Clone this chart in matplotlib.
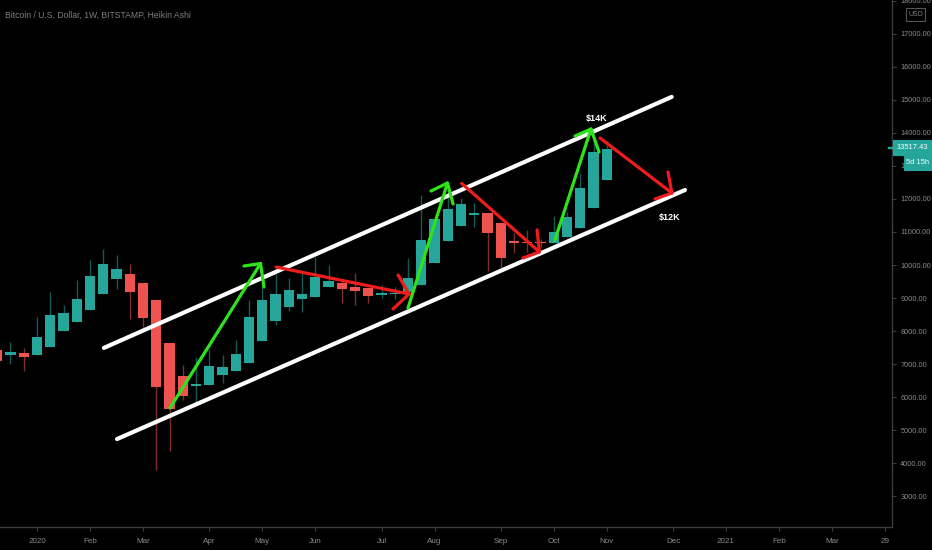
import matplotlib
matplotlib.use("Agg")
import matplotlib.pyplot as plt
from matplotlib.patches import Rectangle
import numpy as np
import pandas as pd

BG       = "#000000"
UP       = "#26a69a"
DOWN     = "#ef5350"
GREEN    = "#2ee31a"
RED      = "#f01c1c"
AXIS_TXT = "#8a8a8a"
AXIS_LN  = "#3c3c3c"
FONT     = ["Liberation Sans", "DejaVu Sans"]

plt.rcParams["font.family"] = FONT

# ── weekly Heikin Ashi bars, BTC/USD (Bitstamp), first bar = week of 2019-12-16 ──
first_week = "2019-12-16"
ha_open  = [7426, 7275, 7326, 7266, 7526, 8001, 8274, 8628, 9131, 9576,
            9727, 9464, 8940, 7629, 6639, 6336, 6357, 6660, 6781, 7042,
            7708, 8313, 8719, 8970, 9040, 9343, 9446, 9343, 9294, 9092,
            9120, 9192, 9394, 10070, 10727, 11190, 11514, 11565, 11263, 10736,
            10705, 10690, 10675, 10839, 11129, 11735, 12574]
ha_high  = [7470, 7677, 7478, 8435, 9173, 8780, 9546, 10151, 10484, 10303,
            10030, 9464, 8940, 7629, 6963, 7205, 7447, 7275, 7729, 8940,
            9394, 9749, 9606, 9749, 10251, 10000, 9567, 9767, 9294, 9394,
            9334, 10203, 12120, 11393, 12271, 12029, 11868, 11565, 11263, 10969,
            11060, 10780, 11484, 11600, 12777, 13876, 13764]
ha_low   = [7060, 7002, 6800, 7266, 7526, 8001, 8274, 8628, 9131, 9273,
            8365, 8123, 3793, 4377, 5912, 5812, 6357, 6418, 6781, 7042,
            7708, 8183, 8616, 8586, 9040, 9343, 8858, 8789, 8858, 9001,
            8970, 9192, 9394, 10070, 10727, 11190, 11160, 9818, 9900, 10354,
            10403, 10550, 10675, 10839, 11129, 11735, 12574]
ha_close = [7102, 7375, 7223, 7811, 8495, 8547, 8980, 9667, 10039, 9870,
            9192, 8404, 6297, 5631, 6042, 6397, 6942, 6921, 7296, 8416,
            8940, 9113, 9243, 9113, 9646, 9525, 9264, 9222, 9070, 9143,
            9150, 9597, 10757, 11393, 11696, 11838, 11565, 10954, 10203, 10675,
            10657, 10660, 11008, 11444, 12322, 13431, 13517]
last_price = "13517.43"
countdown  = "5d 15h"

# ── drawn annotations: (weeks since 2020-01-06, price) ──
chan_upper = [(5.05, 7490), (47.9, 15090)]
chan_lower = [(6.04, 4730), (48.9, 12270)]
# each arrow: start, tip, arm1, arm2
green_arrows = [
    [(10.04, 5670), (16.87, 10045), (15.62, 9970), (17.13, 9334)],
    [(28.00, 8698), (30.98, 12483), (29.74, 12241), (31.40, 11847)],
    [(39.09, 10757), (41.81, 14118), (40.60, 13906), (42.42, 13422)],
]
red_arrows = [
    [(18.04, 9939), (28.08, 9122), (27.25, 9697), (26.87, 8668)],
    [(32.04, 12474), (37.92, 10394), (37.74, 11060), (36.68, 10212)],
    [(42.49, 13846), (47.92, 12180), (47.62, 12816), (46.64, 11998)],
]
notes = [("$14K", 42.26, 14450), ("$12K", 47.77, 11450)]

price_ticks = list(range(3000, 19000, 1000))

# ── geometry of the TradingView pane (pixels) ──
W, H = 932, 550
pane_right, pane_bottom = 892, 527
x0_px, bar_px = 37, 13.25            # pixel of 2020-01-06 bar, px per week
p_ref, y_ref, p_per_px = 10000, 265, 30.28

origin = pd.Timestamp("2020-01-06")
dates = pd.date_range(first_week, periods=len(ha_open), freq="W-MON")
xs = np.asarray((dates - origin).days / 7.0)

# month ticks at the first weekly bar of each month
weeks = pd.date_range(first_week, "2021-04-30", freq="W-MON")
tick_x, tick_lbl = [], []
for prev, cur in zip(weeks[:-1], weeks[1:]):
    if cur.month != prev.month and cur >= pd.Timestamp("2020-01-01") and cur < pd.Timestamp("2021-03-15"):
        tick_x.append((cur - origin).days / 7.0)
        tick_lbl.append(str(cur.year) if cur.month == 1 else cur.strftime("%b"))
tick_x.append((pd.Timestamp("2021-03-29") - origin).days / 7.0)
tick_lbl.append("29")

fig = plt.figure(figsize=(W / 100, H / 100), dpi=100, facecolor=BG)
ax = fig.add_axes([0, (H - pane_bottom) / H, pane_right / W, pane_bottom / H])
ax.set_facecolor(BG)
ax.set_xlim(-x0_px / bar_px, (pane_right - x0_px) / bar_px)
ax.set_ylim(p_ref - (pane_bottom - y_ref) * p_per_px, p_ref + y_ref * p_per_px)

# ── candles ──
for x, o, h, l, c in zip(xs, ha_open, ha_high, ha_low, ha_close):
    col = UP if c >= o else DOWN
    ax.vlines(x, l, h, color=col, lw=1.0, alpha=0.55, zorder=2)
    lo, hi = min(o, c), max(o, c)
    if hi - lo < 45:
        mid = (hi + lo) / 2
        lo, hi = mid - 22, mid + 22
    ax.bar(x, hi - lo, bottom=lo, width=0.76, color=col, lw=0, zorder=3)

# ── channel ──
for ln in (chan_upper, chan_lower):
    ax.plot([ln[0][0], ln[1][0]], [ln[0][1], ln[1][1]], color="white",
            lw=3.0, solid_capstyle="round", zorder=5)

def draw_arrow(pts, col):
    s, t, a1, a2 = pts
    kw = dict(color=col, lw=2.3, solid_capstyle="round", zorder=6)
    ax.plot([s[0], t[0]], [s[1], t[1]], **kw)
    ax.plot([a1[0], t[0], a2[0]], [a1[1], t[1], a2[1]],
            solid_joinstyle="round", **kw)

for pts in green_arrows:
    draw_arrow(pts, GREEN)
for pts in red_arrows:
    draw_arrow(pts, RED)

for txt, x, y in notes:
    ax.text(x, y, txt, color="white", fontsize=6.5, fontweight="bold",
            ha="center", va="center", zorder=7)

# ── axes styling ──
for side in ("top", "left"):
    ax.spines[side].set_visible(False)
for side in ("right", "bottom"):
    ax.spines[side].set_color(AXIS_LN)
    ax.spines[side].set_linewidth(1.0)
ax.yaxis.tick_right()
ax.set_yticks(price_ticks)
ax.set_yticklabels([f"{v:.2f}" for v in price_ticks])
ax.set_xticks(tick_x)
ax.set_xticklabels(tick_lbl)
ax.tick_params(axis="both", colors=AXIS_LN, labelcolor=AXIS_TXT,
               labelsize=5.3, length=3, width=0.8)
ax.tick_params(axis="y", pad=3)
ax.tick_params(axis="x", pad=5, labelsize=5.8)

# ── title / overlays ──
fig.text(5 / W, 1 - 15 / H, "Bitcoin / U.S. Dollar, 1W, BITSTAMP, Heikin Ashi",
         color="#7f7f7f", fontsize=6.2, ha="left", va="center")

def fig_box(x0, y0, x1, y1, face, txt, size=5.4, edge=None, tcol="white"):
    rect = Rectangle((x0 / W, 1 - y1 / H), (x1 - x0) / W, (y1 - y0) / H,
                     transform=fig.transFigure, facecolor=face,
                     edgecolor=edge if edge else face, lw=0.8, zorder=10)
    fig.add_artist(rect)
    fig.text((x0 + x1) / 2 / W, 1 - (y0 + y1) / 2 / H, txt, color=tcol,
             fontsize=size, ha="center", va="center", zorder=11)

fig_box(893, 140, 932, 155, UP, last_price)
fig_box(904, 156, 932, 170, UP, countdown)
fig_box(906, 8, 925, 21, BG, "USD", size=5.0, edge="#555555", tcol="#7f7f7f")
fig.add_artist(Rectangle((888 / W, 1 - 148 / H), 5 / W, 1 / H,
                         transform=fig.transFigure, color=UP, zorder=10))

fig.savefig("out.png", dpi=100, facecolor=BG)
